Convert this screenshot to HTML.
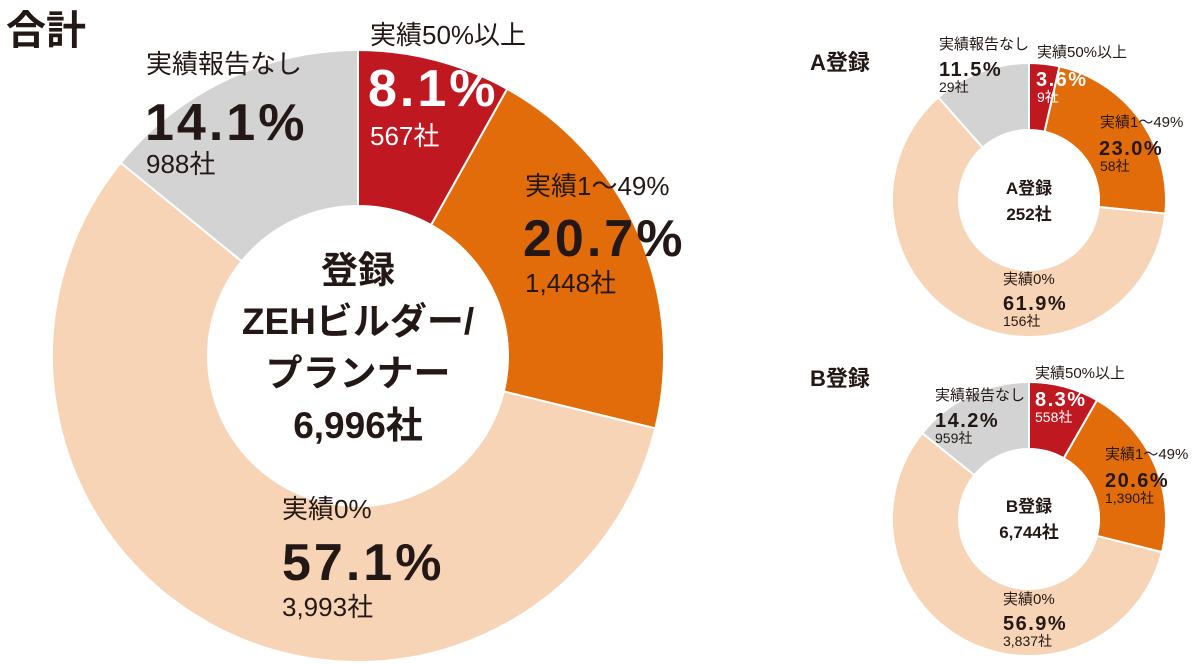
<!DOCTYPE html>
<html><head><meta charset="utf-8">
<style>
html,body{margin:0;padding:0;background:#fff;}
svg{display:block;font-family:"Liberation Sans","Noto Sans CJK JP",sans-serif;}
.b{font-weight:bold;}
.bp{font-weight:bold;font-size:52px;letter-spacing:3px;}
.sp{font-weight:bold;font-size:20px;letter-spacing:1.5px;}
</style></head>
<body>
<svg width="1200" height="664" viewBox="0 0 1200 664">
<text x="6" y="44" font-size="40" class="b" fill="#231815">合計</text>
<text x="810" y="70" font-size="22" class="b" fill="#231815">A登録</text>
<text x="810" y="386" font-size="22" class="b" fill="#231815">B登録</text>
<g id="g-main"></g>
<g id="g-a"></g>
<g id="g-b"></g>

<g fill="#231815">
<text x="370" y="44" font-size="26">実績50%以上</text>
<text x="368" y="106" class="bp" fill="#fff">8.1%</text>
<text x="370" y="145" font-size="26" fill="#fff">567社</text>
<text x="525" y="195" font-size="26">実績1～49%</text>
<text x="523" y="256" class="bp">20.7%</text>
<text x="525" y="292" font-size="26">1,448社</text>
<text x="146" y="73" font-size="26">実績報告なし</text>
<text x="145" y="140" class="bp">14.1%</text>
<text x="146" y="173" font-size="26">988社</text>
<text x="282" y="518" font-size="26">実績0%</text>
<text x="282" y="580" class="bp">57.1%</text>
<text x="282" y="616" font-size="26">3,993社</text>
<g class="b" font-size="37" text-anchor="middle">
<text x="358" y="283">登録</text>
<text x="358" y="334">ZEHビルダー/</text>
<text x="358" y="386">プランナー</text>
<text x="358" y="438">6,996社</text>
</g>
</g>

<g fill="#231815">
<text x="1037" y="57" font-size="15">実績50%以上</text>
<text x="1036" y="86" class="sp" fill="#fff">3.6%</text>
<text x="1037" y="102" font-size="14" fill="#fff">9社</text>
<text x="1100" y="127" font-size="15">実績1～49%</text>
<text x="1099" y="155" class="sp">23.0%</text>
<text x="1100" y="171" font-size="14">58社</text>
<text x="939" y="49" font-size="15">実績報告なし</text>
<text x="939" y="76" class="sp">11.5%</text>
<text x="939" y="92" font-size="14">29社</text>
<text x="1003" y="284" font-size="15">実績0%</text>
<text x="1003" y="310" class="sp">61.9%</text>
<text x="1003" y="326" font-size="14">156社</text>
<text x="1029" y="194" font-size="17" class="b" text-anchor="middle">A登録</text>
<text x="1029" y="220" font-size="17" class="b" text-anchor="middle">252社</text>
</g>

<g fill="#231815">
<text x="1035" y="378" font-size="15">実績50%以上</text>
<text x="1035" y="406" class="sp" fill="#fff">8.3%</text>
<text x="1035" y="422" font-size="14" fill="#fff">558社</text>
<text x="1105" y="459" font-size="15">実績1～49%</text>
<text x="1105" y="487" class="sp">20.6%</text>
<text x="1105" y="503" font-size="14">1,390社</text>
<text x="935" y="400" font-size="15">実績報告なし</text>
<text x="935" y="427" class="sp">14.2%</text>
<text x="935" y="443" font-size="14">959社</text>
<text x="1003" y="604" font-size="15">実績0%</text>
<text x="1003" y="630" class="sp">56.9%</text>
<text x="1003" y="646" font-size="14">3,837社</text>
<text x="1029" y="512" font-size="17" class="b" text-anchor="middle">B登録</text>
<text x="1029" y="538" font-size="17" class="b" text-anchor="middle">6,744社</text>
</g>
</svg>
<script>
const categories = ["実績50%以上", "実績1～49%", "実績0%", "実績報告なし"];
const totalValues = [567, 1448, 3993, 988];
const aValues = [9, 58, 156, 29];
const bValues = [558, 1390, 3837, 959];
const colors = ["#bf1820", "#e36c0a", "#f8d4b6", "#d3d3d3"];
const NS = "http://www.w3.org/2000/svg";
function angleScale(vals){
  const sum = vals.reduce((a,b)=>a+b,0);
  return v => v / sum * Math.PI * 2;
}
function pt(cx,cy,r,a){return [cx + r*Math.sin(a), cy - r*Math.cos(a)];}
function drawDonut(gid, vals, cx, cy, R, r){
  const g = document.getElementById(gid);
  const sc = angleScale(vals);
  let a0 = 0;
  vals.forEach((v,i)=>{
    const a1 = a0 + sc(v);
    const large = (a1 - a0) > Math.PI ? 1 : 0;
    const p1 = pt(cx,cy,R,a0), p2 = pt(cx,cy,R,a1), p3 = pt(cx,cy,r,a1), p4 = pt(cx,cy,r,a0);
    const d = `M${p1[0]},${p1[1]} A${R},${R} 0 ${large} 1 ${p2[0]},${p2[1]} L${p3[0]},${p3[1]} A${r},${r} 0 ${large} 0 ${p4[0]},${p4[1]} Z`;
    const p = document.createElementNS(NS,"path");
    p.setAttribute("d", d);
    p.setAttribute("fill", colors[i]);
    p.setAttribute("stroke", "#fff");
    p.setAttribute("stroke-width", "2");
    
    
    g.appendChild(p);
    a0 = a1;
  });
}
drawDonut("g-main", totalValues, 358, 356, 306, 150);
drawDonut("g-a", aValues, 1029, 200, 137, 70);
drawDonut("g-b", bValues, 1029, 519, 137, 70);
</script>
</body></html>
